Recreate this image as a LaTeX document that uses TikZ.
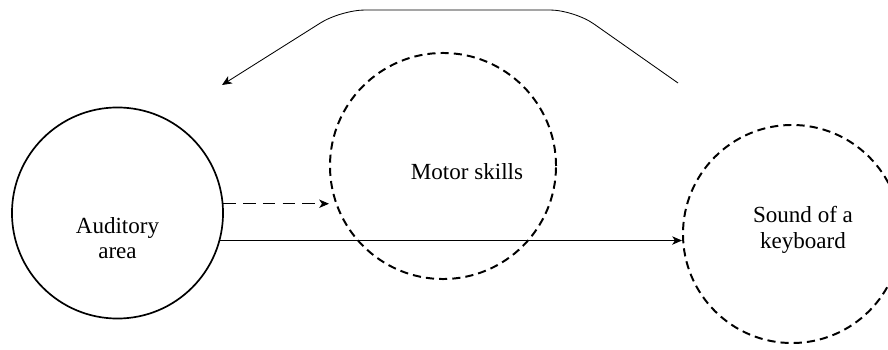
\documentclass[tikz,border=0pt]{standalone}
\usepackage{fontspec}
\setmainfont{Liberation Serif}
\usepackage{tikz}
\usetikzlibrary{arrows.meta, positioning}

\tikzset{
  area/.style={circle, draw, line width=1.2pt, inner sep=0pt},
  dasharea/.style={area, line width=1.4pt, dash pattern=on 5.8pt off 3.6pt},
  lbl/.style={align=center, font=\fontsize{16.4}{18}\selectfont},
  link/.style={line width=0.6pt, -{Stealth[length=7pt, width=6pt, inset=2pt]}}
}

\begin{document}
\begin{tikzpicture}[x=0.025cm, y=0.025cm]
\useasboundingbox (0,0) rectangle (888,349);

% Areas
\node[area, minimum size=5.275cm] (aud) at (117.5,136) {};
\node[dasharea, minimum size=5.65cm] (mot) at (443,183) {};
\node[dasharea, minimum size=5.45cm] (kbd) at (792,115) {};

% Labels
\node[lbl] (audtxt) at (117.5,111) {Auditory\\area};
\node[lbl] (mottxt) at (467,177) {Motor skills};
\node[lbl] (kbdtxt) at (803,119) {Sound of a\\keyboard};

% Arrows
\draw[link, dash pattern=on 9pt off 5pt] (aud.5) -- (aud.5 -| mot.west);
\draw[link] (aud.-15) -- (aud.-15 -| kbd.west);

% Feedback loop
\coordinate (loopstart) at (678,266);
\coordinate (loopr) at (574,339);
\coordinate (loopl) at (341,339);
\coordinate (loopend) at (222,264);
\draw[link, rounded corners=0.6cm] (loopstart) -- (loopr) -- (loopl) -- (loopend);
\end{tikzpicture}
\end{document}
